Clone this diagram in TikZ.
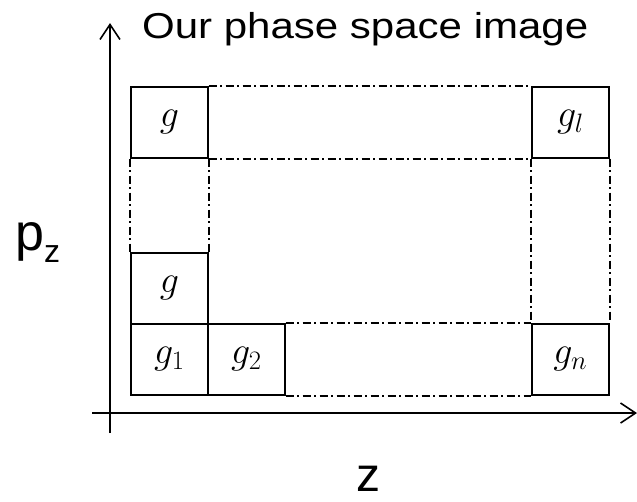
\RequirePackage{fix-cm}
\documentclass[tikz,border=0pt]{standalone}
\usepackage{fontspec}
\setmainfont{Liberation Sans}
\usetikzlibrary{arrows.meta}
\begin{document}
\begin{tikzpicture}[x=1pt,y=-1pt,
  cell/.style={draw, line width=1.7pt, minimum width=77pt, minimum height=71pt, inner sep=0pt, anchor=north west, font=\fontsize{38}{44}\selectfont},
  guide/.style={line width=1.6pt, dash pattern=on 8pt off 3.5pt on 2pt off 3.5pt},
  axis/.style={line width=2.3pt, -{Straight Barb[length=15pt,width=20pt,line width=1.6pt]}},
  lab/.style={inner sep=0pt, anchor=base west}]
\useasboundingbox (0,0) rectangle (637,501);
% axes
\coordinate (yb) at (110,433);
\coordinate (yt) at (110,23);
\coordinate (xl) at (92,413);
\coordinate (xr) at (637,413);
\draw[axis] (yb) -- (yt);
\draw[axis] (xl) -- (xr);
% cells
\node[cell] (gA) at (130,86) {$g$};
\node[cell] (gL) at (531,86) {$g_l$};
\node[cell] (gB) at (130,252) {$g$};
\node[cell] (g1) at (130,323) {$g_1$};
\node[cell] (g2) at (207,323) {$g_2$};
\node[cell] (gN) at (531,323) {$g_n$};
% guides
\draw[guide] (gA.north east) -- (gL.north west);
\draw[guide] (gA.south east) -- (gL.south west);
\draw[guide] (gA.south west) -- (gB.north west);
\draw[guide] (gA.south east) -- (gB.north east);
\draw[guide] (gL.south west) -- (gN.north west);
\draw[guide] (gL.south east) -- (gN.north east);
\draw[guide] (g2.north east) -- (gN.north west);
\draw[guide] (g2.south east) -- (gN.south west);
% labels
\node[lab, font=\fontsize{36}{42}\selectfont] (title) at (142,38) {\scalebox{1.167}[1]{Our phase space image}};
\node[lab, font=\fontsize{52}{60}\selectfont] (pz) at (15,250) {p\raisebox{-12pt}{\fontsize{32}{36}\selectfont z}};
\node[lab, font=\fontsize{48}{56}\selectfont] (z) at (356,491) {z};
\end{tikzpicture}
\end{document}
